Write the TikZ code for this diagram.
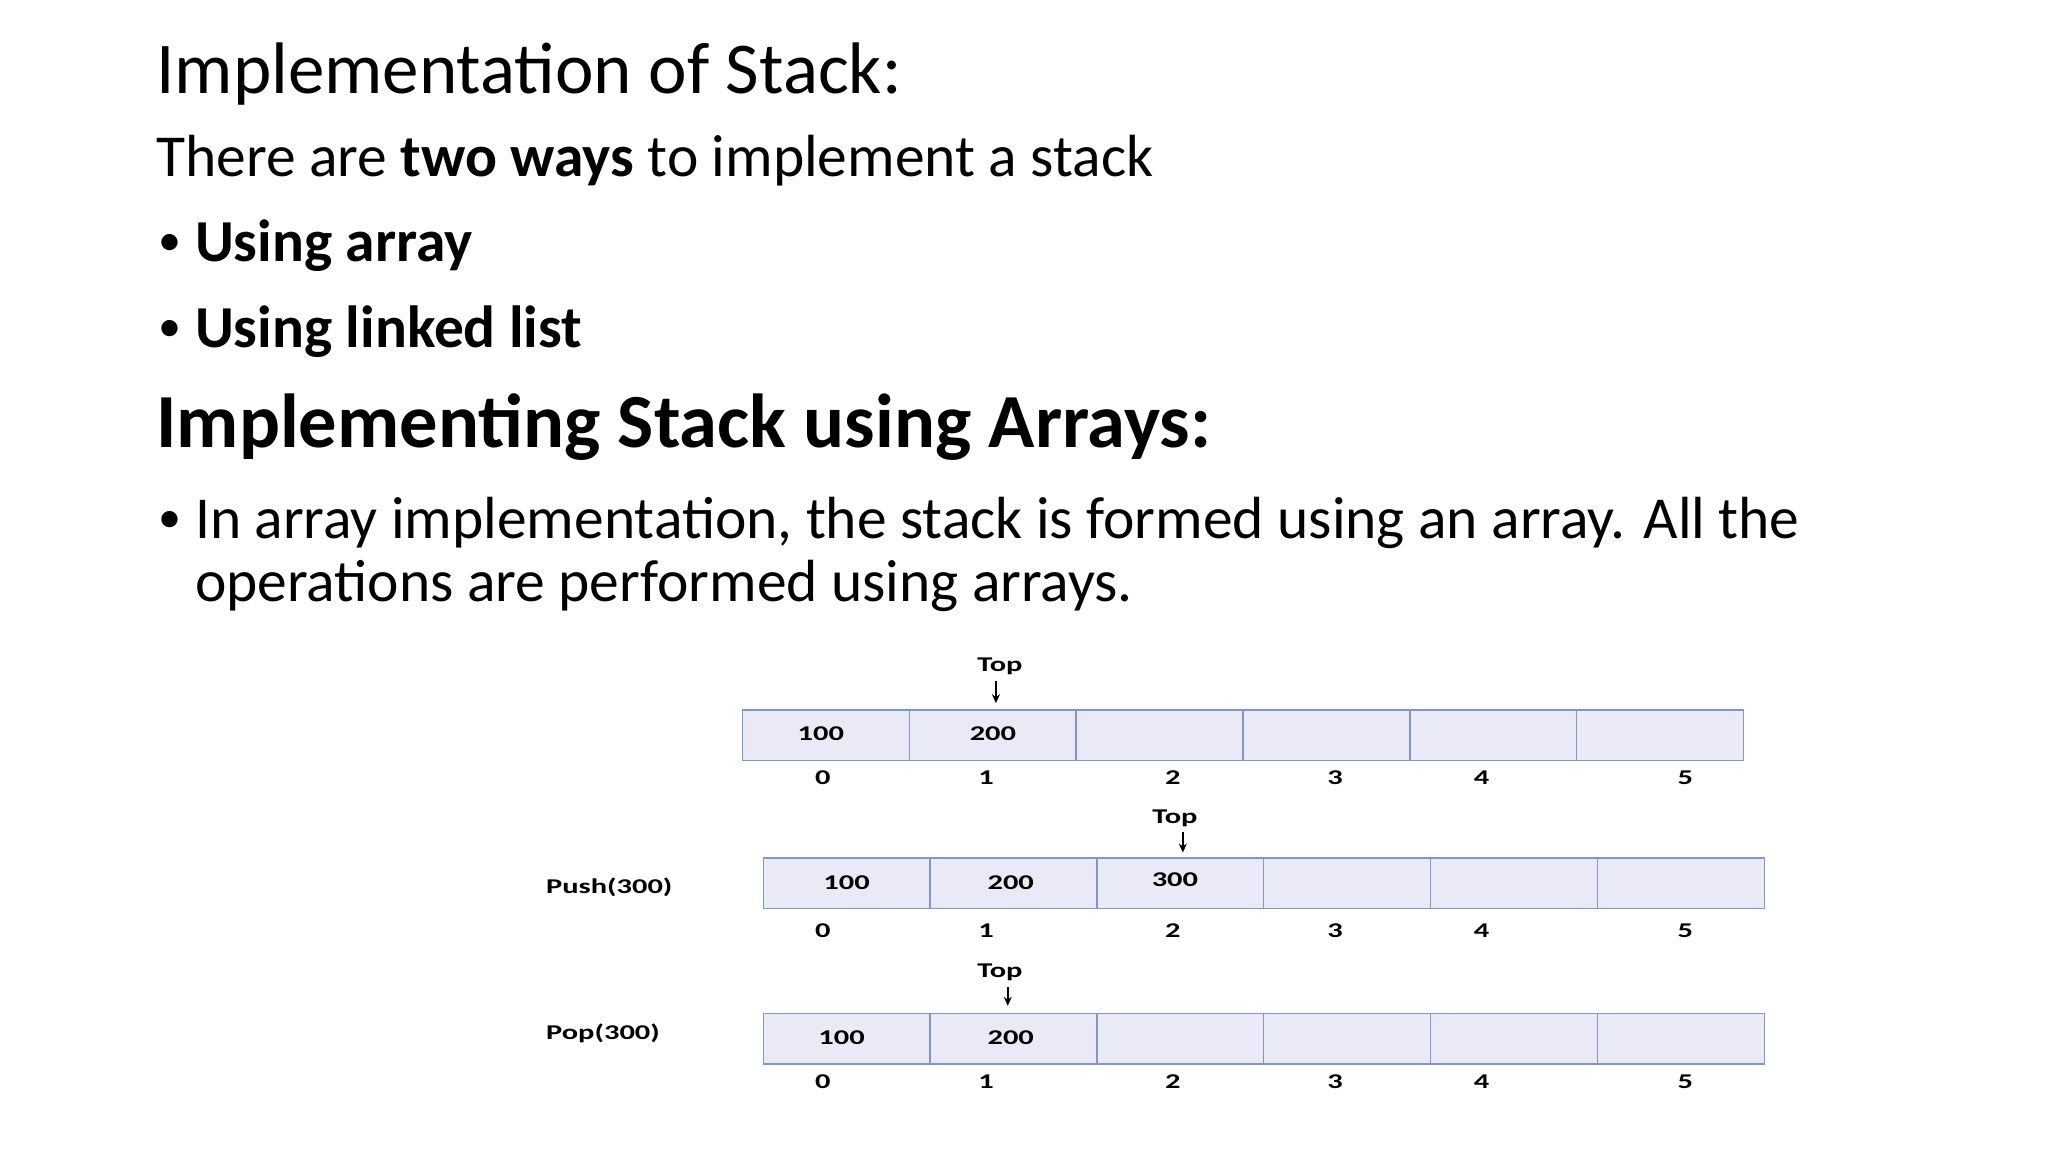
\documentclass[tikz,border=0pt]{standalone}
\usepackage{fontspec}
\setmainfont{Carlito}
\usetikzlibrary{arrows.meta}
\definecolor{cellline}{HTML}{7C98CF}
\definecolor{cellfill}{HTML}{E9EAF5}
\begin{document}
\begin{tikzpicture}[x=0.989pt,y=-0.989pt,
  tx/.style={anchor=base west,inner sep=0pt},
  cellbox/.style={draw=cellline,line width=1.4pt,fill=cellfill,minimum width=166.8pt,minimum height=50.5pt,inner sep=0pt,anchor=north west},
  sm/.style={inner sep=0pt,font=\fontsize{21}{21}\selectfont\bfseries},
  arr/.style={-{Stealth[length=9pt,width=8pt]},line width=2pt}]
\useasboundingbox (0,0) rectangle (2070.8,1164.8);
\fill[white] (0,0) rectangle (2070.8,1164.8);
\node[tx,font=\fontsize{73}{73}\selectfont] (t) at (158,95) {Implementation of Stack:};
\node[tx,font=\fontsize{59.5}{59.5}\selectfont] (l2) at (158,178) {There are \textbf{two ways} to implement a stack};
\node[tx,font=\fontsize{46}{46}\selectfont] (b1d) at (160,258) {•};
\node[tx,font=\fontsize{59.5}{59.5}\selectfont\bfseries] (b1) at (197,264) {Using array};
\node[tx,font=\fontsize{46}{46}\selectfont] (b2d) at (160,345) {•};
\node[tx,font=\fontsize{59.5}{59.5}\selectfont\bfseries] (b2) at (197,351) {Using linked list};
\node[tx,font=\fontsize{76.5}{76.5}\selectfont\bfseries] (h) at (158,452) {Implementing Stack using Arrays:};
\node[tx,font=\fontsize{46}{46}\selectfont] (b3d) at (160,538) {•};
\node[tx,font=\fontsize{59.5}{59.5}\selectfont] (b3a) at (197,544) {In array implementation, the stack is formed using an array. All the};
\node[tx,font=\fontsize{59.5}{59.5}\selectfont] (b3b) at (197,608) {operations are performed using arrays.};
% arrays
\foreach \r/\x/\y in {1/750/717,2/771/867,3/771/1024}{
  \foreach \i in {0,...,5}{
    \node[cellbox] (c\r\i) at ({\x+\i*168.7},\y) {};
  }
}
\newcommand{\sx}[1]{\scalebox{1.45}[1]{#1}}
\foreach \r/\y in {1/786,2/941,3/1094}{
  \foreach \i/\x in {0/832,1/997,2/1186,3/1350,4/1498,5/1704}{
    \node[sm] (i\r\i) at (\x,\y) {\sx{\i}};
  }
}
\node[sm] (v10) at (830,742) {\sx{100}};
\node[sm] (v11) at (1004,742) {\sx{200}};
\node[sm] (v20) at (856,893) {\sx{100}};
\node[sm] (v21) at (1022,893) {\sx{200}};
\node[sm] (v22) at (1188,889) {\sx{300}};
\node[sm] (v30) at (851,1049) {\sx{100}};
\node[sm] (v31) at (1022,1049) {\sx{200}};
\node[sm,anchor=west] (push) at (552,897) {\sx{Push(300)}};
\node[sm,anchor=west] (pop) at (552,1045) {\sx{Pop(300)}};
\node[sm] (top1) at (1011,674) {\sx{Top}};
\node[sm] (top2) at (1188,827) {\sx{Top}};
\node[sm] (top3) at (1011,983) {\sx{Top}};
\coordinate (a1) at (1007,711); \coordinate (a2) at (1196,862); \coordinate (a3) at (1019,1017);
\draw[arr] (top1.south -| a1) ++(0,6) -- (a1);
\draw[arr] (top2.south -| a2) ++(0,6) -- (a2);
\draw[arr] (top3.south -| a3) ++(0,6) -- (a3);
\end{tikzpicture}
\end{document}
